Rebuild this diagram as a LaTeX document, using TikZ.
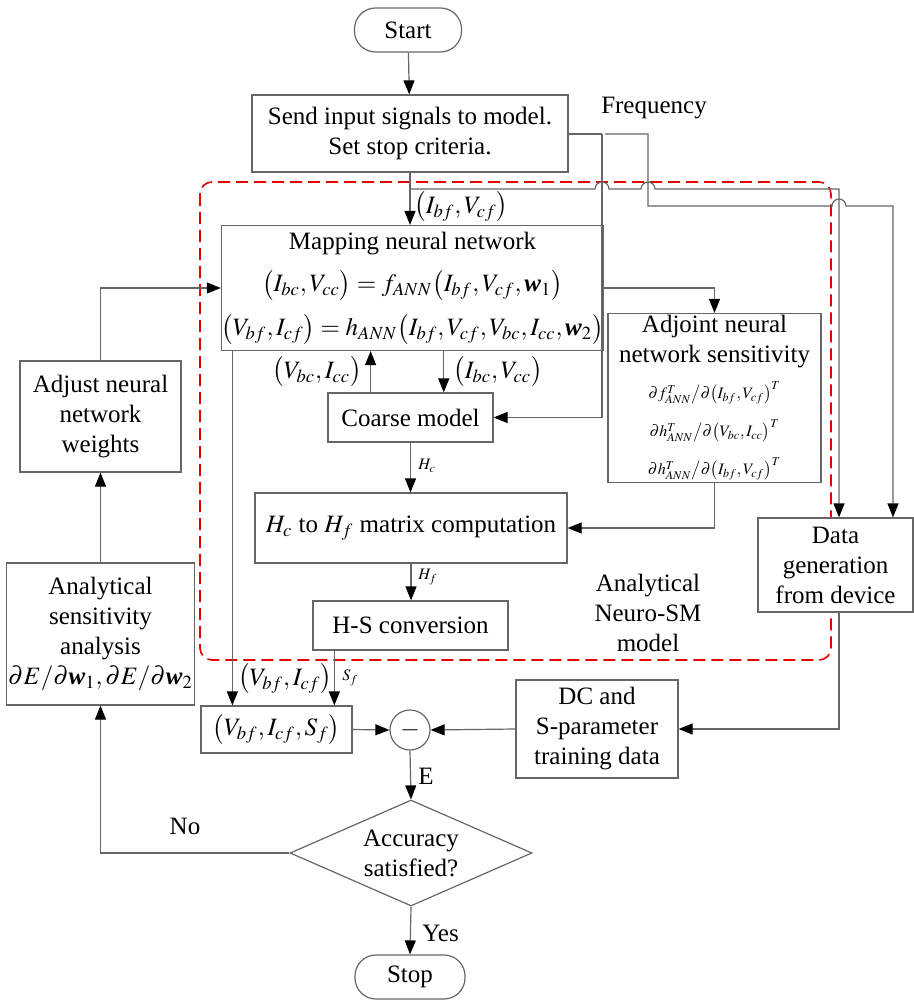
\documentclass[tikz,border=0pt]{standalone}
\usepackage{amsmath}
\usepackage{mathptmx}
\usepackage{fontspec}
\setmainfont{Liberation Serif}
\usetikzlibrary{arrows.meta,shapes.geometric,calc,backgrounds}

\newcommand{\wvec}{\mbox{\bfseries\itshape w}}

\begin{document}
\begin{tikzpicture}[
    x=0.5pt, y=-0.5pt,
    font=\fontsize{12.5}{15}\selectfont,
    box/.style={draw=black!60, fill=white, line width=0.6pt, align=center, inner sep=1pt},
    term/.style={box, rounded corners=10.5pt},
    line/.style={draw=black!60, line width=0.6pt},
    arr/.style={line, -{Triangle[length=7pt,width=5.5pt,color=black]}},
    lbl/.style={inner sep=1pt}
]
    \useasboundingbox (0,0) rectangle (914,1000);

    % Nodes
    \node[term, minimum width=53.5pt, minimum height=22pt] (start) at (408,30) {Start};
    \node[box, minimum width=158pt, minimum height=38.5pt] (send) at (410,133.5)
        {Send input signals to model.\\ Set stop criteria.};
    \node[box, inner sep=0pt, minimum width=185.5pt, minimum height=62.5pt] (map) at (412.5,288)
        {Mapping neural network\\[6pt]
         $\bigl(I_{bc}, V_{cc}\bigr) = f_{ANN}\bigl(I_{bf}, V_{cf}, \wvec_1\bigr)$\\[7pt]
         $\bigl(V_{bf}, I_{cf}\bigr) = h_{ANN}\bigl(I_{bf}, V_{cf}, V_{bc}, I_{cc}, \wvec_2\bigr)$};
    \node[box, minimum width=106.5pt, minimum height=83pt] (adjoint) at (714.5,398)
        {Adjoint neural\\ network sensitivity\\[3pt]
         \footnotesize $\partial f_{ANN}^{T} \big/ \partial\bigl(I_{bf}, V_{cf}\bigr)^{T}$\\[4pt]
         \footnotesize $\partial h_{ANN}^{T} \big/ \partial\bigl(V_{bc}, I_{cc}\bigr)^{T}$\\[4pt]
         \footnotesize $\partial h_{ANN}^{T} \big/ \partial\bigl(I_{bf}, V_{cf}\bigr)^{T}$};
    \node[box, minimum width=82.5pt, minimum height=24.5pt] (coarse) at (410.5,417.5) {Coarse model};
    \node[box, minimum width=156pt, minimum height=35pt] (hchf) at (411,528)
        {$H_c$ to $H_f$ matrix computation};
    \node[box, minimum width=97.5pt, minimum height=24.5pt] (hs) at (410.5,625.5) {H-S conversion};
    \node[box, minimum width=75.5pt, minimum height=23.5pt] (res) at (276.5,729.5)
        {$\bigl(V_{bf}, I_{cf}, S_f\bigr)$};
    \node[circle, draw=black!60, line width=0.6pt, minimum size=20pt, inner sep=0pt] (sub) at (410,730) {$-$};
    \node[box, minimum width=81pt, minimum height=49pt] (dc) at (597,729)
        {DC and\\ S-parameter\\ training data};
    \node[box, fill=white, minimum width=77.5pt, minimum height=47pt] (gen) at (835.5,565)
        {Data\\ generation\\ from device};
    \node[diamond, draw=black!60, line width=0.6pt, shape aspect=2.28, minimum width=121pt,
          minimum height=53pt, inner sep=0pt, align=center] (acc) at (411,853)
        {Accuracy\\ satisfied?};
    \node[term, minimum width=55pt, minimum height=22pt] (stop) at (410,977) {Stop};
    \node[box, minimum width=90.5pt, minimum height=71pt] (ana) at (100.5,634)
        {Analytical\\ sensitivity\\ analysis\\
         $\partial E/\partial \wvec_1, \partial E/\partial \wvec_2$};
    \node[box, minimum width=80.5pt, minimum height=55.5pt] (adj) at (100.5,416.5)
        {Adjust neural\\ network\\ weights};

    % Model frame
    \begin{pgfonlayer}{background}
        \draw[red!90!black, line width=0.8pt, dash pattern=on 6pt off 3pt, rounded corners=6pt]
            (200,182) rectangle (831,660);
    \end{pgfonlayer}

    % Labels
    \node[lbl, anchor=west] (l_in) at (412,207) {$\bigl(I_{bf}, V_{cf}\bigr)$};
    \node[lbl] (l_vbc) at (317,372) {$\bigl(V_{bc}, I_{cc}\bigr)$};
    \node[lbl] (l_ibc) at (498,372) {$\bigl(I_{bc}, V_{cc}\bigr)$};
    \node[lbl, anchor=west] (l_hc) at (416,466) {\footnotesize $H_c$};
    \node[lbl, anchor=west] (l_hf) at (416,577) {\footnotesize $H_f$};
    \node[lbl, anchor=west] (l_sf) at (340,678) {\footnotesize $S_f$};
    \node[lbl] (l_vbf) at (285,679) {$\bigl(V_{bf}, I_{cf}\bigr)$};
    \node[lbl, anchor=west] (l_e) at (416,776) {E};
    \node[lbl] (l_no) at (185,826) {No};
    \node[lbl, anchor=west] (l_yes) at (420,933) {Yes};
    \node[lbl] (l_freq) at (654,108) {Frequency};
    \node[lbl, align=center] (l_model) at (648,613) {Analytical\\ Neuro-SM\\ model};

    % Coordinates
    \coordinate (brA) at (410,189);
    \coordinate (tapA) at (839,189);
    \coordinate (tapB) at (893,206);
    \coordinate (fq) at (602,134);
    \coordinate (cu) at ($(coarse.north west)!0.26!(coarse.north east)$);
    \coordinate (cd) at ($(coarse.north west)!0.7!(coarse.north east)$);
    \coordinate (ra) at ($(res.north west)!0.21!(res.north east)$);
    \coordinate (rb) at ($(res.north west)!0.88!(res.north east)$);

    % Main flow
    \draw[arr] (start) -- (send);
    \draw[arr] (send.south) -- (send.south |- map.north);
    \draw[arr] (map.east) -| (adjoint.north);
    \draw[arr] (cu) -- (cu |- map.south);
    \draw[arr] (cd |- map.south) -- (cd);
    \draw[arr] (coarse.south) -- (coarse.south |- hchf.north);
    \draw[arr] (adjoint.south) |- (hchf.east);
    \draw[arr] (hchf.south) -- (hchf.south |- hs.north);
    \draw[arr] (rb |- hs.south) -- (rb);
    \draw[arr] (ra |- map.south) -- (ra);
    \draw[arr] (res.east) -- (sub.west);
    \draw[arr] (dc.west) -- (sub.east);
    \draw[arr] (sub.south) -- (acc.north);
    \draw[arr] (acc.south) -- (stop.north);

    % Training loop
    \draw[arr] (acc.west) -| (ana.south);
    \draw[arr] (ana.north) -- (adj.south);
    \draw[arr] (adj.north) |- (map.west);

    % Inputs and device data
    \draw[arr] (fq) -- (fq |- coarse.east) -- (coarse.east);
    \draw[arr] (brA) -- (595,189) arc[start angle=180, end angle=360, radius=7]
        -- (641,189) arc[start angle=180, end angle=360, radius=7]
        -- (tapA) -- (tapA |- gen.north);
    \draw[line] (send.east |- fq) -- (fq);
    \draw[arr] (605,134) -- (648,134) -- (648,206)
        -- (832,206) arc[start angle=180, end angle=360, radius=7]
        -- (tapB) -- (tapB |- gen.north);
    \draw[arr] (tapA |- gen.south) -- (tapA |- dc.east) -- (dc.east);

\end{tikzpicture}
\end{document}
